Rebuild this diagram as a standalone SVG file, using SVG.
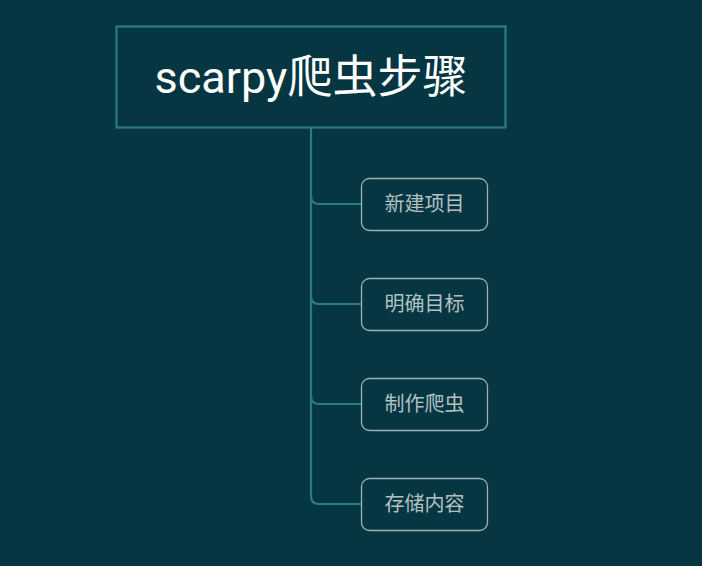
<svg xmlns="http://www.w3.org/2000/svg" width="702" height="566" viewBox="0 0 702 566">
<style>
.br{fill:none;stroke:#2b7d7b;stroke-width:2.2}
.cb{fill:#063642;stroke:#9fb1b1;stroke-width:1.3}
.ct{font-family:"Noto Sans CJK SC","Noto Sans",sans-serif;font-size:20px;fill:#b3c1c1;text-anchor:middle}
</style>
<rect x="0" y="0" width="702" height="566" fill="#063642"/>
<g id="connectors">
<path class="br" d="M311 127 V196 Q311 204 319 204 H361"/>
<path class="br" d="M311 196 V296 Q311 304 319 304 H361"/>
<path class="br" d="M311 296 V396 Q311 404 319 404 H361"/>
<path class="br" d="M311 396 V496 Q311 504 319 504 H361"/>
</g>
<g id="root">
<rect x="116.5" y="26.5" width="389" height="101" fill="#063642" stroke="#2b7d7b" stroke-width="2.2"/>
<text x="311" y="93" font-family="Roboto,'Noto Sans CJK SC',sans-serif" font-size="45" fill="#ffffff" text-anchor="middle">scarpy爬虫步骤</text>
</g>
<g id="n1"><rect class="cb" x="361.5" y="178.5" width="126" height="52" rx="8"/><text class="ct" x="424.5" y="211">新建项目</text></g>
<g id="n2"><rect class="cb" x="361.5" y="278.5" width="126" height="52" rx="8"/><text class="ct" x="424.5" y="311">明确目标</text></g>
<g id="n3"><rect class="cb" x="361.5" y="378.5" width="126" height="52" rx="8"/><text class="ct" x="424.5" y="411">制作爬虫</text></g>
<g id="n4"><rect class="cb" x="361.5" y="478.5" width="126" height="52" rx="8"/><text class="ct" x="424.5" y="511">存储内容</text></g>
</svg>
